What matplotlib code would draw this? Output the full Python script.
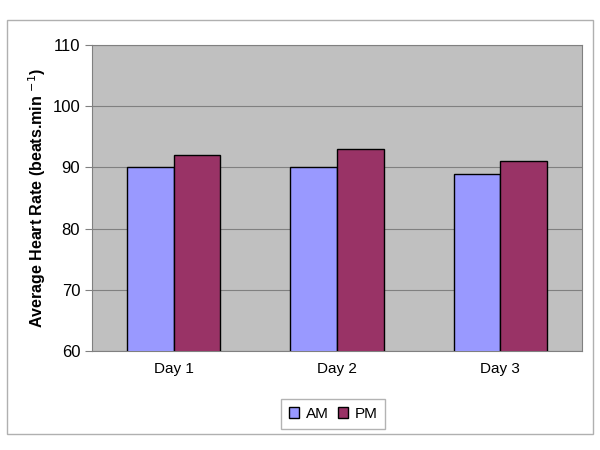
import matplotlib
matplotlib.use('Agg')
from matplotlib import pyplot as plt
from matplotlib.patches import Rectangle
import numpy as np

days = ['Day 1', 'Day 2', 'Day 3']
am = [90, 90, 89]
pm = [92, 93, 91]
series_names = ['AM', 'PM']
y_ticks = [60, 70, 80, 90, 100, 110]

plt.rcParams['font.family'] = ['Liberation Sans', 'DejaVu Sans']

fig = plt.figure(figsize=(6, 4.5), dpi=100)
fig.patches.append(Rectangle((6.5/600, 1 - 434/450), 586/600, 414/450,
                             transform=fig.transFigure, fill=False,
                             edgecolor='#b0b0b0', linewidth=1))

ax = fig.add_axes([92/600, 1 - 351/450, 490/600, 306/450])
ax.set_facecolor('#c0c0c0')

x = np.arange(len(days))
w = 0.285
ax.bar(x - w/2, am, w, color='#9999ff', edgecolor='black', linewidth=1, label=series_names[0], zorder=3)
ax.bar(x + w/2, pm, w, color='#993366', edgecolor='black', linewidth=1, label=series_names[1], zorder=3)

ax.set_xlim(-0.5, 2.5)
ax.set_ylim(60, 110)
ax.set_yticks(y_ticks)
ax.yaxis.grid(True, color='#808080', linewidth=0.8, zorder=0)
ax.set_axisbelow(True)
ax.set_xticks(x)
ax.set_xticklabels(days)
ax.tick_params(axis='x', length=0, pad=8, labelsize=11)
ax.tick_params(axis='y', length=5, direction='out', color='#808080', labelsize=12)
for side in ['top', 'right', 'left', 'bottom']:
    ax.spines[side].set_color('#808080')

ax.set_ylabel('Average Heart Rate (beats.min $^{-1}$)', fontsize=11.5, fontweight='bold', labelpad=3)

leg = fig.legend(loc='center', bbox_to_anchor=(333/600, 1 - 414/450), ncol=2,
                 fontsize=11, frameon=True, fancybox=False, edgecolor='#a0a0a0',
                 handlelength=0.7, handleheight=0.7, handletextpad=0.4, columnspacing=0.6,
                 borderpad=0.5)
leg.get_frame().set_linewidth(1)

fig.savefig('out.png', dpi=100)
